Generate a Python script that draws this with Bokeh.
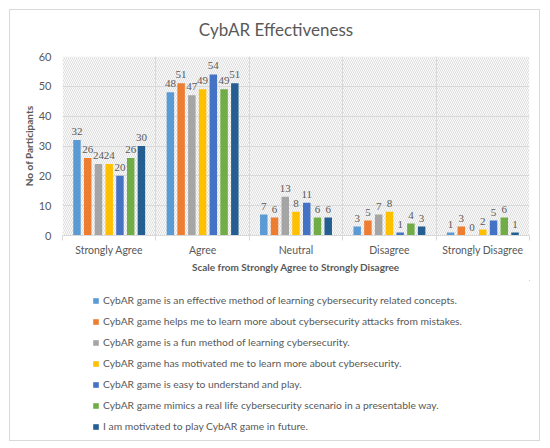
import numpy as np
from bokeh.plotting import figure
from bokeh.models import Range1d, FixedTicker, Legend, LegendItem, BoxAnnotation, Spacer, Label
from bokeh.layouts import row, column
from bokeh.embed import file_html
from bokeh.resources import INLINE

title_text = "CybAR Effectiveness"
categories = ["Strongly Agree", "Agree", "Neutral", "Disagree", "Strongly Disagree"]
series_names = [
    "CybAR game is an effective method of learning cybersecurity related concepts.",
    "CybAR game helps me to learn more about cybersecurity attacks from mistakes.",
    "CybAR game is a fun method of learning cybersecurity.",
    "CybAR game has motivated me to learn more about cybersecurity.",
    "CybAR game is easy to understand and play.",
    "CybAR game mimics a real life cybersecurity scenario in a presentable way.",
    "I am motivated to play CybAR game in future.",
]
effective = [32, 48, 7, 3, 1]
mistakes = [26, 51, 6, 5, 3]
fun = [24, 47, 13, 7, 0]
motivated = [24, 49, 8, 8, 2]
easy = [20, 54, 11, 1, 5]
mimics = [26, 49, 6, 4, 6]
future = [30, 51, 6, 3, 1]
series_values = [effective, mistakes, fun, motivated, easy, mimics, future]
y_ticks = [0, 10, 20, 30, 40, 50, 60]

colors = ["#5B9BD5", "#ED7D31", "#A5A5A5", "#FFC000", "#4472C4", "#70AD47", "#255E91"]
TXT = "#595959"
GRID = "#D9D9D9"
FONT = "Lato"
BORDER = "1px solid #D9D9D9"
W = 531
ML, MR = 52, 12


def blank(h, styles):
    f = figure(width=W, height=h, x_range=Range1d(0, 1), y_range=Range1d(0, 1),
               output_backend="svg", toolbar_location=None,
               x_axis_location=None, y_axis_location=None,
               min_border_left=ML, min_border_right=MR, min_border_top=0, min_border_bottom=0)
    f.styles = styles
    f.outline_line_color = None
    f.grid.visible = False
    f.background_fill_color = "white"
    f.border_fill_color = "white"
    return f


# ---------------- header (title) ----------------
hdr = blank(36, {"border": BORDER, "border-bottom": "none", "box-sizing": "border-box"})
hdr.add_layout(Label(x=0.5, y=17 / 35, text=title_text, text_align="center",
                     text_baseline="middle", x_offset=-20, text_font=FONT,
                     text_font_size="17px", text_color=TXT))

# ---------------- chart ----------------
p = figure(width=W, height=235, x_range=Range1d(0, len(categories)), y_range=Range1d(0, 60),
           output_backend="svg", toolbar_location=None,
           min_border_left=ML, min_border_right=MR, min_border_top=11, min_border_bottom=45)
p.styles = {"border-left": BORDER, "border-right": BORDER, "box-sizing": "border-box"}
p.outline_line_color = None
p.background_fill_color = "white"
p.border_fill_color = "white"

bg = BoxAnnotation(fill_color="white", fill_alpha=1, line_color=None,
                   hatch_pattern="left_diagonal_line", hatch_color="#DCDCDC",
                   hatch_scale=4, hatch_weight=1, level="image")
p.add_layout(bg)

centers = np.arange(len(categories)) + 0.5
boundaries = list(range(len(categories) + 1))

p.xaxis.ticker = FixedTicker(ticks=list(centers), minor_ticks=boundaries)
p.xaxis.major_label_overrides = {float(c): name for c, name in zip(centers, categories)}
p.xaxis.major_tick_line_color = None
p.xaxis.minor_tick_line_color = GRID
p.xaxis.minor_tick_out = 5
p.xaxis.minor_tick_in = 0
p.xaxis.axis_line_color = GRID
p.xaxis.major_label_text_color = TXT
p.xaxis.major_label_text_font = FONT
p.xaxis.major_label_text_font_size = "10.5px"
p.xaxis.major_label_standoff = 2
p.xaxis.axis_label = "Scale from Strongly Agree to Strongly Disagree"
p.xaxis.axis_label_text_font = FONT
p.xaxis.axis_label_text_font_size = "10px"
p.xaxis.axis_label_text_font_style = "bold"
p.xaxis.axis_label_text_color = TXT
p.xaxis.axis_label_standoff = 2

p.yaxis.ticker = FixedTicker(ticks=y_ticks)
p.yaxis.axis_line_color = None
p.yaxis.major_tick_line_color = None
p.yaxis.minor_tick_line_color = None
p.yaxis.major_label_text_color = TXT
p.yaxis.major_label_text_font = FONT
p.yaxis.major_label_text_font_size = "11px"
p.yaxis.major_label_standoff = 5
p.yaxis.axis_label = "No of Participants"
p.yaxis.axis_label_text_font = FONT
p.yaxis.axis_label_text_font_size = "10px"
p.yaxis.axis_label_text_font_style = "bold"
p.yaxis.axis_label_text_color = TXT
p.yaxis.axis_label_standoff = 1

p.xgrid.ticker = FixedTicker(ticks=boundaries)
p.xgrid.grid_line_color = GRID
p.ygrid.grid_line_color = GRID

step = 0.115
bar_w = 0.08
n = len(series_values)
for j, (vals, col) in enumerate(zip(series_values, colors)):
    xs = centers + (j - (n - 1) / 2) * step
    p.vbar(x=xs, top=vals, width=bar_w, color=col, line_color=None)
    p.text(x=xs, y=vals, text=[str(v) for v in vals], text_align="center",
           text_baseline="bottom", y_offset=-5, text_font_size="11px",
           text_color=TXT, text_font=FONT)

# ---------------- legend panel ----------------
q = blank(161, {"border": BORDER, "border-top": "none", "box-sizing": "border-box"})
items = []
for name, col in zip(series_names, colors):
    # a single off-range bar per series, only used to draw the legend swatch
    r = q.vbar(x=[5], top=[5], bottom=[4], width=0.1, color=col, line_color=None)
    items.append(LegendItem(label=name, renderers=[r]))

legend = Legend(items=items, location=(30, 8), orientation="vertical",
                border_line_color=None, background_fill_alpha=0, padding=0, margin=0,
                glyph_width=7, glyph_height=7, label_height=14, spacing=7,
                label_standoff=4, label_text_font=FONT, label_text_font_size="10.3px",
                label_text_color=TXT)
q.add_layout(legend, "center")

layout = row(Spacer(width=9), column(Spacer(height=9), hdr, p, q))
open("out.html", "w").write(file_html(layout, INLINE))
